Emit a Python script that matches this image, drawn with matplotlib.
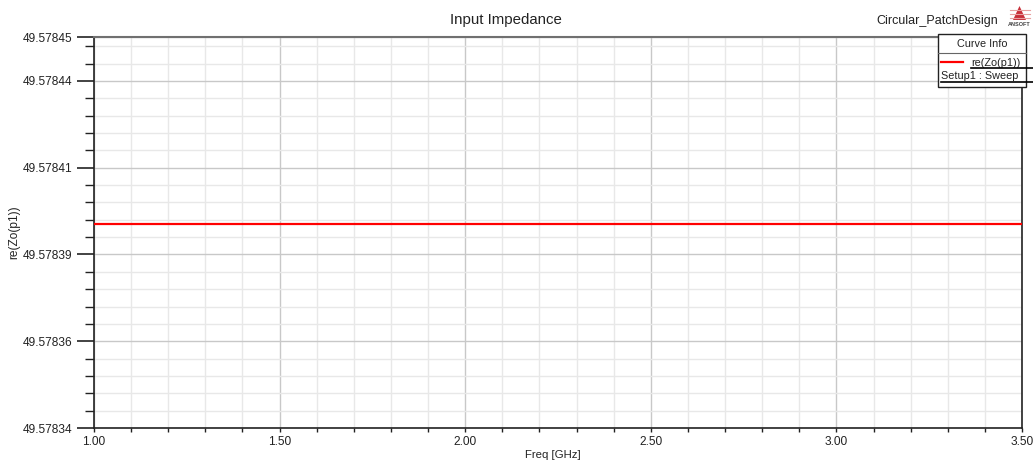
import matplotlib
matplotlib.use("Agg")
import matplotlib.pyplot as plt
from matplotlib.ticker import FixedLocator, MultipleLocator
from matplotlib.patches import Polygon, Rectangle

plt.rcParams['font.family'] = ['Liberation Sans', 'DejaVu Sans']

# Data
freq_ghz = [1.00, 1.25, 1.50, 1.75, 2.00, 2.25, 2.50, 2.75, 3.00, 3.25, 3.50]
re_zo = [49.5783976] * len(freq_ghz)

y_min = 49.57834
y_step = 2.45e-5
y_max = y_min + 4.507 * y_step
y_major = [y_min + k * y_step for k in range(5)] + [y_max]
x_major = [1.00, 1.50, 2.00, 2.50, 3.00, 3.50]

W, H = 1033, 463
fig = plt.figure(figsize=(W / 100, H / 100), dpi=100)
ax = fig.add_axes([94 / W, (H - 428) / H, (1022 - 94) / W, (428 - 37) / H])

ax.plot(freq_ghz, re_zo, color='#ff0000', lw=1.6, zorder=3)
ax.set_xlim(1.0, 3.5)
ax.set_ylim(y_min, y_max)

ax.xaxis.set_major_locator(FixedLocator(x_major))
ax.xaxis.set_minor_locator(MultipleLocator(0.1))
ax.set_xticklabels([f"{v:.2f}" for v in x_major])
ax.yaxis.set_major_locator(FixedLocator(y_major))
ax.yaxis.set_minor_locator(FixedLocator([y_min + k * y_step / 5 for k in range(23)]))
ax.set_yticklabels([f"{v:.5f}" for v in y_major])

ax.grid(which='major', color='#c8c8c8', lw=1.0, zorder=1)
ax.grid(which='minor', color='#e8e8e8', lw=1.0, zorder=0)
ax.set_axisbelow(True)

ax.tick_params(axis='y', which='major', length=12, width=1.2, color='#222222',
               labelsize=8.6, pad=3.5, labelcolor='#222222')
ax.tick_params(axis='y', which='minor', length=6.5, width=1.0, color='#222222')
ax.tick_params(axis='x', which='major', length=3, width=1.0, color='#222222',
               labelsize=8.6, pad=3, labelcolor='#222222')
ax.tick_params(axis='x', which='minor', length=3, width=1.0, color='#222222')

for s in ['left', 'bottom', 'right']:
    ax.spines[s].set_color('#222222')
    ax.spines[s].set_linewidth(1.2)
ax.spines['top'].set_color('#707070')
ax.spines['top'].set_linewidth(1.5)

fig.text(553 / W, 1 - 455 / H, 'Freq [GHz]', fontsize=8.2, color='#222222',
         ha='center', va='center')
fig.text(14 / W, 1 - 232 / H, 're(Zo(p1))', rotation=90, fontsize=8.6,
         color='#222222', ha='center', va='center')

fig.text(506 / W, 1 - 20 / H, 'Input Impedance', fontsize=10.8, ha='center',
         va='center', color='#222222')
fig.text(998 / W, 1 - 21 / H, 'Circular_PatchDesign', fontsize=9, ha='right',
         va='center', color='#222222')

# ANSOFT logo
tri = Polygon([[1013 / W, 1 - 20 / H], [1026 / W, 1 - 20 / H], [1019.5 / W, 1 - 6 / H]],
              closed=True, transform=fig.transFigure, facecolor='#c8303a',
              edgecolor='none')
fig.patches.append(tri)
for yy in [10, 14, 18]:
    fig.add_artist(plt.Line2D([1010 / W, 1030 / W], [1 - yy / H, 1 - yy / H],
                              transform=fig.transFigure, color='#e8a0a0', lw=0.8))
fig.patches.append(Rectangle((1008 / W, 1 - 21 / H), 24 / W, 1.5 / H,
                             transform=fig.transFigure, facecolor='white', edgecolor='none'))
fig.text(1019.5 / W, 1 - 24.5 / H, 'ANSOFT', fontsize=4, ha='center', va='center',
         color='#444444', weight='bold')

# Curve info box
fig.patches.append(Rectangle((938 / W, 1 - 87 / H), (1026 - 938) / W, (87 - 34) / H,
                             transform=fig.transFigure, facecolor='white',
                             edgecolor='#222222', lw=1.0, zorder=5))
fig.add_artist(plt.Line2D([938 / W, 1026 / W], [1 - 53 / H, 1 - 53 / H],
                          transform=fig.transFigure, color='#666666', lw=0.8, zorder=6))
fig.text(982 / W, 1 - 44 / H, 'Curve Info', fontsize=7.8, ha='center', va='center',
         color='#222222', zorder=7)
fig.add_artist(plt.Line2D([941 / W, 963 / W], [1 - 62 / H, 1 - 62 / H],
                          transform=fig.transFigure, color='#ff0000', lw=1.6, zorder=7))
fig.text(971 / W, 1 - 63 / H, 're(Zo(p1))', fontsize=7.8, ha='left', va='center',
         color='#222222', zorder=7)
fig.text(941 / W, 1 - 76 / H, 'Setup1 : Sweep', fontsize=7.8, ha='left', va='center',
         color='#222222', zorder=7)
fig.add_artist(plt.Line2D([971 / W, 1033 / W], [1 - 68 / H, 1 - 68 / H],
                          transform=fig.transFigure, color='#000000', lw=1.2, zorder=8))
fig.add_artist(plt.Line2D([941 / W, 1033 / W], [1 - 82 / H, 1 - 82 / H],
                          transform=fig.transFigure, color='#000000', lw=1.2, zorder=8))

fig.savefig('out.png', dpi=100)
